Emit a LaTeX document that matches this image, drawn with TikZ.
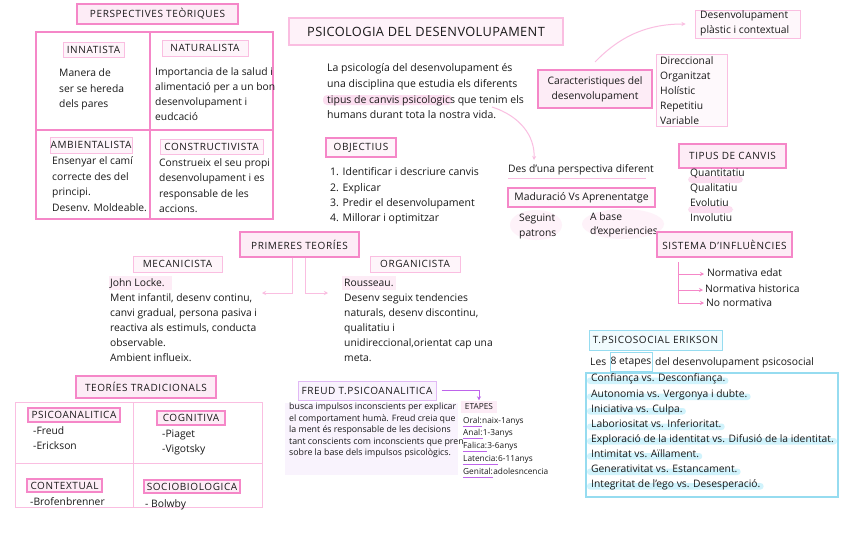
\documentclass[tikz,border=0pt]{standalone}
\usepackage{fontspec}
\setmainfont{Open Sans}
\newfontfamily\hdfont[LetterSpace=6]{Open Sans}
\newfontfamily\ttlfont[LetterSpace=3]{Open Sans}
\usetikzlibrary{arrows.meta,backgrounds}
\definecolor{pk}{RGB}{245,135,200}
\definecolor{pkl}{RGB}{250,190,225}
\definecolor{pkf}{RGB}{253,236,246}
\definecolor{pkh}{RGB}{252,222,240}
\definecolor{cy}{RGB}{150,220,240}
\definecolor{cyh}{RGB}{208,243,252}
\definecolor{pu}{RGB}{190,100,235}
\definecolor{pul}{RGB}{225,185,245}
\definecolor{puf}{RGB}{249,243,253}
\definecolor{txt}{RGB}{25,25,25}
\tikzset{
  every node/.style={text=txt},
  hbox/.style={draw=pk, line width=1.2pt, fill=pkf, inner sep=0pt, font=\hdfont\fontsize{10}{12}\selectfont},
  lbox/.style={draw=pkl, line width=1pt, fill=pkf!60, inner sep=0pt, font=\hdfont\fontsize{10}{12}\selectfont},
  para/.style={anchor=north west, inner sep=0pt, align=left, font=\fontsize{10.3}{15.3}\selectfont},
  line/.style={anchor=base west, inner sep=0pt, font=\fontsize{10.3}{12}\selectfont},
  small/.style={anchor=base west, inner sep=0pt, font=\fontsize{8.3}{10}\selectfont},
  pkarrow/.style={draw=pkl, line width=1pt, -{Stealth[length=4pt,width=4pt]}},
}
\begin{document}
\begin{tikzpicture}[x=1pt,y=-1pt]
\useasboundingbox (0,0) rectangle (848,549);
\begin{scope}[on background layer]
\fill[white] (0,0) rectangle (848,549);
\end{scope}

% ---------- PERSPECTIVES TEORIQUES ----------
\node[hbox, minimum width=161, minimum height=20] (pt) at (157.5,14) {PERSPECTIVES TEÒRIQUES};
\draw[pk, line width=1.3pt] (36,32) rectangle (273,219);
\draw[pk, line width=1.3pt] (150,32) -- (150,219);
\draw[pk, line width=1.3pt] (36,130) -- (273,130);
\node[lbox, minimum width=61, minimum height=15] (inn) at (93.5,49.5) {INNATISTA};
\node[lbox, minimum width=86, minimum height=16] (nat) at (205,48) {NATURALISTA};
\node[lbox, minimum width=82, minimum height=16] (amb) at (91,145) {AMBIENTALISTA};
\node[lbox, minimum width=103, minimum height=15] (cons) at (211.5,146.5) {CONSTRUCTIVISTA};
\node[para, font=\fontsize{10.3}{15.5}\selectfont] (inntx) at (59,68.5) {Manera de\\ser se hereda\\dels pares};
\node[para, font=\fontsize{10.3}{15}\selectfont] (nattx) at (155,67.5) {Importancia de la salud i\\alimentació per a un bon\\desenvolupament i\\eudcació};
\node[para, font=\fontsize{10.3}{15.6}\selectfont] (ambtx) at (52,156.5) {Ensenyar el camí\\correcte des del\\principi.\\Desenv. Moldeable.};
\node[para, font=\fontsize{10.3}{15.4}\selectfont] (contx) at (159,158.5) {Construeix el seu propi\\desenvolupament i es\\responsable de les\\accions.};

% ---------- PSICOLOGIA DEL DESENVOLUPAMENT ----------
\node[draw=pkl, line width=1.3pt, fill=pkf!70, minimum width=274, minimum height=27, inner sep=0pt, font=\ttlfont\fontsize{12.8}{14}\selectfont] (psi) at (426,31.5) {PSICOLOGIA DEL DESENVOLUPAMENT};
\fill[pkh, rounded corners=4pt] (323,95) rectangle (452,105);
\node[para, font=\fontsize{10.5}{15.7}\selectfont] (def) at (327,63.5) {La psicología del desenvolupament és\\una disciplina que estudia els diferents\\tipus de canvis psicologics que tenim els\\humans durant tota la nostra vida.};
\node[hbox, draw=pk, fill=pkf!60, minimum width=70, minimum height=19] (obj) at (361,147.5) {OBJECTIUS};
\node[para, font=\fontsize{10.5}{15.3}\selectfont] (objtx) at (330,167.5) {1. Identificar i descriure canvis\\2. Explicar\\3. Predir el desenvolupament\\4. Millorar i optimitzar};

% ---------- Caracteristiques ----------
\node[hbox, minimum width=114, minimum height=38, align=center, font=\fontsize{10.3}{15}\selectfont] (car) at (595,89) {Caracteristiques del\\desenvolupament};
\node[lbox, fill=pkf!40, minimum width=105, minimum height=28] (dpbox) at (747.5,24) {};
\node[para, font=\fontsize{10.3}{15}\selectfont] (dp) at (700,10.5) {Desenvolupament\\plàstic i contextual};
\node[lbox, fill=pkf!30, minimum width=71, minimum height=72] (carbox) at (691.5,90) {};
\node[para, font=\fontsize{10.3}{15}\selectfont] (carl) at (660,56.5) {Direccional\\Organitzat\\Holístic\\Repetitiu\\Variable};
\coordinate (carup) at (595,62);
\draw[pkarrow] (carup) .. controls (622,34) and (650,24) .. ([xshift=-9]dpbox.west);

% ---------- Des d'una perspectiva ----------
\node[line] (des) at (508,172.5) {Des d’una perspectiva diferent};
\coordinate (defend) at (492,107);
\coordinate (desin) at (534,160);
\draw[pkarrow] (defend) .. controls (520,116) and (535,136) .. (desin);
\draw[pkl, line width=1.3pt] (508,178.5) -- (646,178.5);
\node[hbox, fill=pkf!40, minimum width=147, minimum height=19, font=\fontsize{10.4}{12}\selectfont] (mad) at (581.5,197.5) {Maduració Vs Aprenentatge};
\fill[pkf!70] (536,225) ellipse (26 and 15);
\fill[pkf!70] (623,224) ellipse (41 and 15);
\node[para, font=\fontsize{10.3}{15}\selectfont] (seg) at (519,213.5) {Seguint\\patrons};
\node[para, font=\fontsize{10.3}{14}\selectfont] (abase) at (590,212.5) {A base\\d’experiencies};

% ---------- TIPUS DE CANVIS ----------
\node[hbox, minimum width=107, minimum height=24] (tip) at (732.5,156) {TIPUS DE CANVIS};
\fill[pkh, rounded corners=4pt] (688,176) rectangle (743,183);
\fill[pkh, rounded corners=4pt] (688,206) rectangle (733,213);
\node[para, font=\fontsize{10.3}{15}\selectfont] (tiptx) at (690,168.5) {Quantitatiu\\Qualitatiu\\Evolutiu\\Involutiu};

% ---------- SISTEMA D'INFLUENCIES ----------
\node[hbox, minimum width=135, minimum height=25] (sis) at (724.5,244.5) {SISTEMA D’INFLUÈNCIES};
\node[line] (n1) at (707,276.5) {Normativa edat};
\node[line] (n2) at (705,292.5) {Normativa historica};
\node[line] (n3) at (706,306.5) {No normativa};
\coordinate (sisv) at (678,262);
\draw[pk, line width=1pt] (sisv) -- (678,303);
\draw[pk, line width=1pt, -{Stealth[length=4pt,width=4pt]}] (678,274) -- (704,274);
\draw[pk, line width=1pt, -{Stealth[length=4pt,width=4pt]}] (678,290) -- (703,290);
\draw[pk, line width=1pt, -{Stealth[length=4pt,width=4pt]}] (678,303) -- (704,303);

% ---------- PRIMERES TEORIES ----------
\node[hbox, minimum width=119, minimum height=25] (pri) at (299.5,244.5) {PRIMERES TEORÍES};
\node[lbox, fill=pkf!50, minimum width=89, minimum height=16] (mec) at (177.5,264) {MECANICISTA};
\node[lbox, fill=pkf!50, minimum width=90, minimum height=16] (org) at (415,264) {ORGANICISTA};
\coordinate (mecarr) at (262,293);
\coordinate (orgarr) at (328,293);
\draw[pkarrow] ([xshift=-7.5]pri.south) |- (mecarr);
\draw[pkarrow] ([xshift=5.5]pri.south) |- (orgarr);
\fill[pkf] (109,276) rectangle (172,290);
\fill[pkf] (342,276) rectangle (396,290);
\node[para, font=\fontsize{10.3}{14.9}\selectfont] (mectx) at (110,278.5) {John Locke.\\Ment infantil, desenv continu,\\canvi gradual, persona pasiva i\\reactiva als estimuls, conducta\\observable.\\Ambient influeix.};
\node[para, font=\fontsize{10.3}{15}\selectfont] (orgtx) at (344,278.5) {Rousseau.\\Desenv seguix tendencies\\naturals, desenv discontinu,\\qualitatiu i\\unidireccional,orientat cap una\\meta.};

% ---------- TEORIES TRADICIONALS ----------
\node[hbox, minimum width=140, minimum height=22] (tt) at (146,387) {TEORÍES TRADICIONALS};
\draw[pkl, line width=1pt] (15,402) rectangle (262,507);
\draw[pkl, line width=1pt] (133,402) -- (133,507);
\draw[pkl, line width=1pt] (15,463) -- (262,463);
\node[hbox, minimum width=92, minimum height=14] (psa) at (74,415) {PSICOANALITICA};
\node[hbox, minimum width=68, minimum height=14] (cog) at (191,418) {COGNITIVA};
\node[hbox, minimum width=75, minimum height=13] (ctx) at (64.5,485.5) {CONTEXTUAL};
\node[hbox, minimum width=96, minimum height=13] (soc) at (192,486.5) {SOCIOBIOLOGICA};
\node[para, font=\fontsize{10.3}{15}\selectfont] (psatx) at (33,426.5) {-Freud\\-Erickson};
\node[para, font=\fontsize{10.3}{15}\selectfont] (cogtx) at (162,429.5) {-Piaget\\-Vigotsky};
\node[para] (ctxtx) at (30,497.5) {-Brofenbrenner};
\node[para] (soctx) at (145,499.5) {- Bolwby};

% ---------- FREUD ----------
\node[draw=pul, line width=1pt, fill=puf, minimum width=138, minimum height=19, inner sep=0pt, font=\hdfont\fontsize{10}{12}\selectfont] (fr) at (367,390.5) {FREUD T.PSICOANALITICA};
\fill[puf] (285,403) rectangle (458,475);
\node[para, font=\fontsize{8.8}{11.5}\selectfont] (frtx) at (289,403) {busca impulsos inconscients per explicar\\el comportament humà. Freud creia que\\la ment és responsable de les decisions\\tant conscients com inconscients que pren\\sobre la base dels impulsos psicològics.};
\node[fill=pkf, minimum width=36, minimum height=12, inner sep=0pt, font=\fontsize{8.3}{10}\selectfont] (et) at (479,406.5) {ETAPES};
\draw[pu, line width=1pt, -{Stealth[length=4pt,width=4pt]}] ([xshift=5]fr.east) -| (et.north);
\node[small] (o1) at (463,423) {Oral:};
\node[small, anchor=base west] (o2) at (o1.base east) {naix-1anys};
\node[small] (a1) at (463,435.5) {Anal:};
\node[small, anchor=base west] (a2) at (a1.base east) {1-3anys};
\node[small] (f1) at (463,448) {Falica:};
\node[small, anchor=base west] (f2) at (f1.base east) {3-6anys};
\node[small] (l1) at (463,461) {Latencia:};
\node[small, anchor=base west] (l2) at (l1.base east) {6-11anys};
\node[small] (g1) at (463,474) {Genital:};
\node[small, anchor=base west] (g2) at (g1.base east) {adolesncencia};
\foreach \n in {o1,a1,f1,l1,g1}
  \draw[pu, line width=1pt] ([yshift=-3]\n.base west) -- ([yshift=-3]\n.base east);

% ---------- ERIKSON ----------
\node[draw=cy, line width=1pt, fill=cyh!30, minimum width=133, minimum height=20, inner sep=0pt, font=\hdfont\fontsize{10}{12}\selectfont] (er) at (655.5,340) {T.PSICOSOCIAL ERIKSON};
\node[line] (les) at (590,365.5) {Les};
\node[draw=cy, line width=1pt, inner sep=0pt, minimum width=42, minimum height=19, font=\fontsize{10.3}{12}\selectfont] (et8) at (631,362) {8 etapes};
\node[line] (lesr) at (655,365.5) {del desenvolupament psicosocial};
\draw[cy, line width=1.2pt] (586,373) rectangle (838,497);
\node[line] (e1) at (591,381.5) {Confiança vs. Desconfiança.};
\node[line] (e2) at (591,397.5) {Autonomia vs. Vergonya i dubte.};
\node[line] (e3) at (591,412) {Iniciativa vs. Culpa.};
\node[line] (e4) at (591,427.5) {Laboriositat vs. Inferioritat.};
\node[line] (e5) at (591,442) {Exploració de la identitat vs. Difusió de la identitat.};
\node[line] (e6) at (591,457) {Intimitat vs. Aïllament.};
\node[line] (e7) at (591,472.5) {Generativitat vs. Estancament.};
\node[line] (e8) at (591,487) {Integritat de l’ego vs. Desesperació.};
\begin{scope}[on background layer]
\foreach \n in {e1,e2,e3,e4,e5,e6,e7,e8}
  \fill[cyh, rounded corners=3pt] ([xshift=-4,yshift=-2.5]\n.base west) rectangle ([xshift=3,yshift=4]\n.base east);
\end{scope}
\end{tikzpicture}
\end{document}
